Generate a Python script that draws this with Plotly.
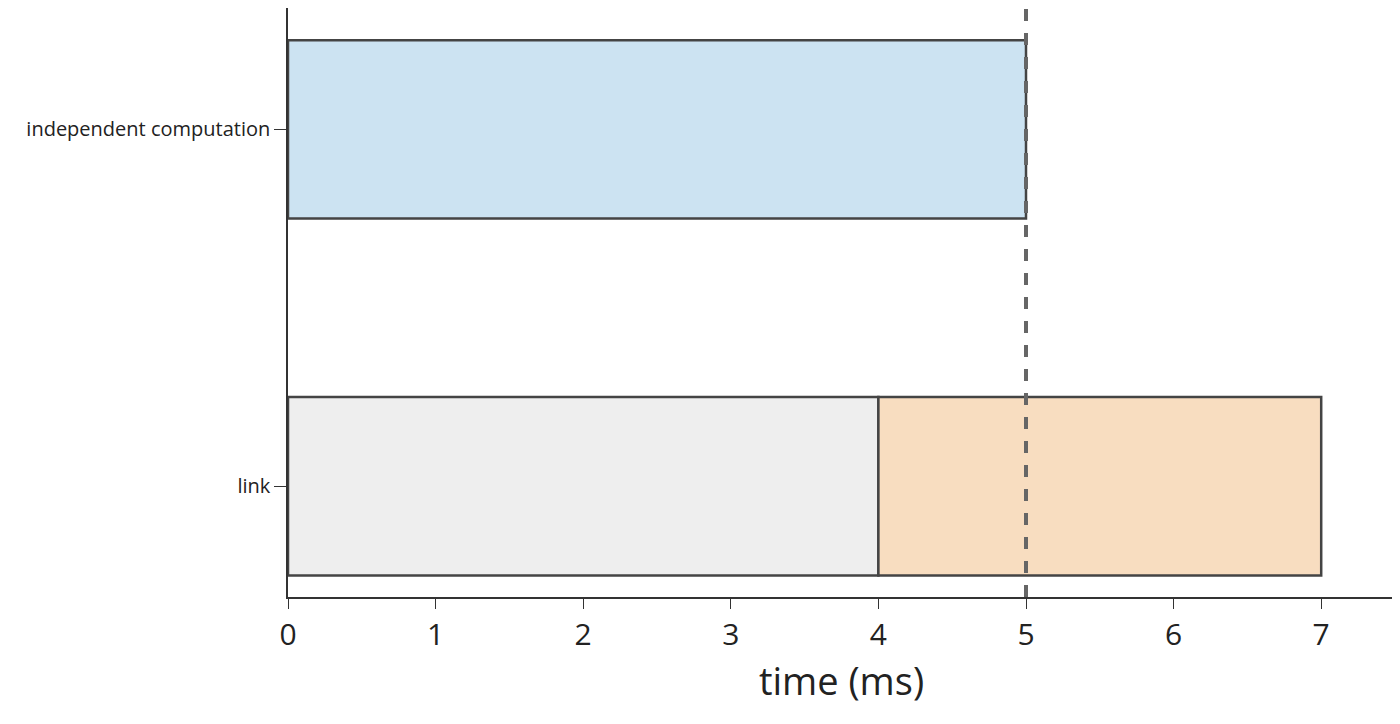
import plotly.graph_objects as go

categories = ["link", "independent computation"]
seg_cat = ["independent computation", "link", "link"]
seg_start = [0, 0, 4]
seg_len = [5, 4, 3]
seg_color = ["#cce3f2", "#eeeeee", "#f8ddc0"]
vline_x = 5
x_ticks = [0, 1, 2, 3, 4, 5, 6, 7]

fig = go.Figure()
for c, s, l, col in zip(seg_cat, seg_start, seg_len, seg_color):
    fig.add_trace(go.Bar(y=[c], x=[l], base=[s], orientation="h", width=0.5,
                         marker=dict(color=col, line=dict(color="#444444", width=2.5)),
                         showlegend=False))
fig.add_shape(type="line", x0=vline_x, x1=vline_x, y0=0, y1=1, yref="paper",
              line=dict(color="#666666", width=4, dash="dash"))
fig.update_layout(
    width=1400, height=724, plot_bgcolor="white", paper_bgcolor="white",
    margin=dict(l=280, r=13, t=0, b=135), barmode="overlay",
    font=dict(family="Open Sans", color="#222222"),
    xaxis=dict(range=[0, 7.5], tickvals=x_ticks, showgrid=False, zeroline=False,
               showline=True, linecolor="#333333", linewidth=1.5, ticks="outside",
               ticklen=10, tickcolor="#333333", tickfont=dict(size=30),
               title=dict(text="time (ms)", font=dict(size=38), standoff=8)),
    yaxis=dict(categoryorder="array", categoryarray=categories, range=[-0.31, 1.34],
               showgrid=False, zeroline=False, showline=True, linecolor="#333333",
               linewidth=1.5, ticks="outside", ticklen=12, tickcolor="#333333",
               tickfont=dict(size=20)),
)
fig.write_html("out.html")
